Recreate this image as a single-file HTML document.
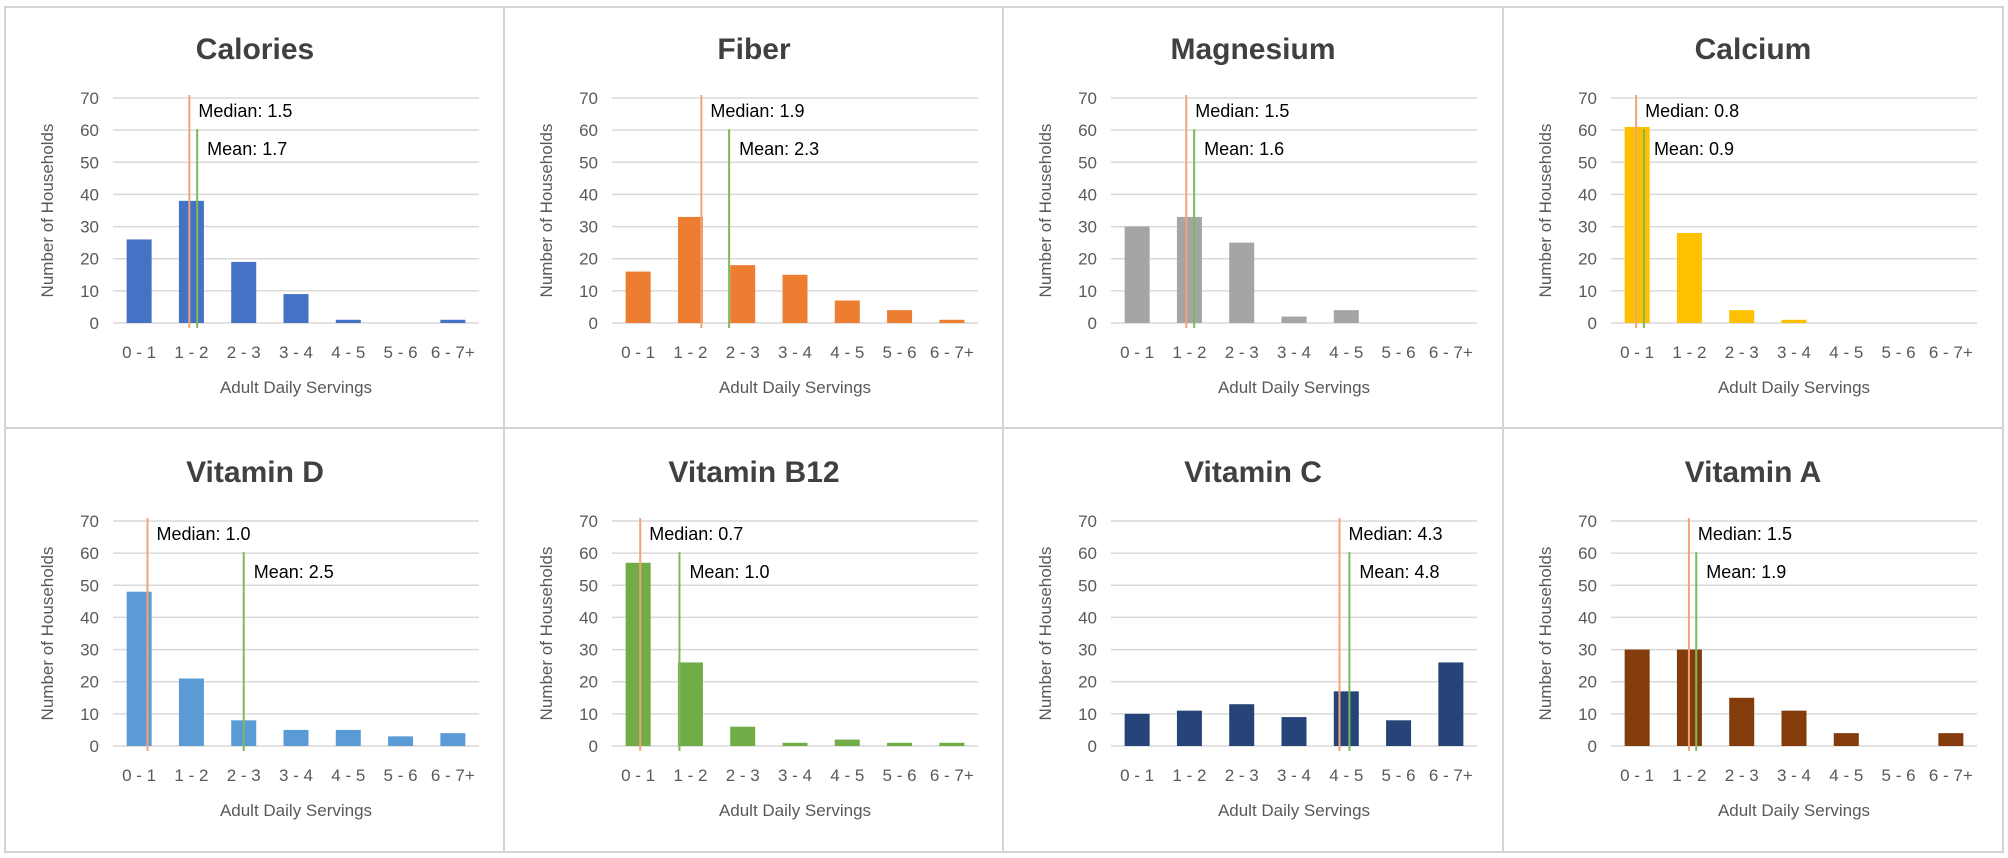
<!DOCTYPE html>
<html><head><meta charset="utf-8">
<style>
html,body{margin:0;padding:0;background:#fff;}
svg{display:block;font-family:"Liberation Sans",sans-serif;}
</style></head>
<body>
<svg id="chart" width="2008" height="858" viewBox="0 0 2008 858" xmlns="http://www.w3.org/2000/svg"></svg>
<script>
const titles = ["Calories","Fiber","Magnesium","Calcium","Vitamin D","Vitamin B12","Vitamin C","Vitamin A"];
const categories = ["0 - 1","1 - 2","2 - 3","3 - 4","4 - 5","5 - 6","6 - 7+"];
const yTicks = [0,10,20,30,40,50,60,70];
const caloriesValues = [26,38,19,9,1,0,1];
const fiberValues = [16,33,18,15,7,4,1];
const magnesiumValues = [30,33,25,2,4,0,0];
const calciumValues = [61,28,4,1,0,0,0];
const vitaminDValues = [48,21,8,5,5,3,4];
const vitaminB12Values = [57,26,6,1,2,1,1];
const vitaminCValues = [10,11,13,9,17,8,26];
const vitaminAValues = [30,30,15,11,4,0,4];
const medianLabels = ["1.5","1.9","1.5","0.8","1.0","0.7","4.3","1.5"];
const meanLabels = ["1.7","2.3","1.6","0.9","2.5","1.0","4.8","1.9"];
const medianPos = [1.46,1.71,1.44,0.48,0.66,0.54,4.37,1.49];
const meanPos = [1.61,2.24,1.59,0.63,2.5,1.29,4.56,1.63];
const colors = ["#4472c4","#ed7d31","#a5a5a5","#ffc000","#5b9bd5","#70ad47","#264478","#843c0c"];
const allValues = [caloriesValues,fiberValues,magnesiumValues,calciumValues,vitaminDValues,vitaminB12Values,vitaminCValues,vitaminAValues];

const svg = document.getElementById('chart');
const NS = "http://www.w3.org/2000/svg";
function mk(tag, attrs, parent){
  const e = document.createElementNS(NS, tag);
  for (const k in attrs) e.setAttribute(k, attrs[k]);
  (parent||svg).appendChild(e);
  return e;
}
const colX = [5,504,1003,1503,2003];
const rowY = [7,428,852];
// outer frame & dividers
const frame = mk('rect',{x:5,y:7,width:1998,height:845,fill:'none',stroke:'#d4d4d4','stroke-width':2});


[504,1003,1503].forEach(x=>{
  const l = mk('line',{x1:x,y1:7,x2:x,y2:852,stroke:'#d4d4d4','stroke-width':2});
  
  
});
const hl = mk('line',{x1:5,y1:428,x2:2003,y2:428,stroke:'#d4d4d4','stroke-width':2});



for (let p=0;p<8;p++){
  const col = p%4, row = Math.floor(p/4);
  const ox = colX[col], oy = rowY[row] + (row===1 ? 2 : 0);
  const g = mk('g',{});
  
  
  const left = ox+108, right = ox+474;
  const y0 = oy+316, yTop = oy+91;
  const yScale = v => y0 - (v/70)*(y0-yTop);
  const band = (right-left)/categories.length;
  const xScale = u => left + u*band;

  const t = mk('text',{x:ox+250,y:oy+52,'text-anchor':'middle','font-size':30,'font-weight':'bold',fill:'#404040'},g);
  t.textContent = titles[p];
  
  

  yTicks.forEach(v=>{
    const gl = mk('line',{x1:left,x2:right,y1:yScale(v),y2:yScale(v),stroke:'#d9d9d9','stroke-width':1.5},g);
    
    
    const tl = mk('text',{x:left-14,y:yScale(v)+6,'text-anchor':'end','font-size':17,fill:'#595959'},g);
    tl.textContent = v;
    
    
  });
  const yt = mk('text',{x:0,y:0,'text-anchor':'middle','font-size':17,fill:'#595959',transform:`translate(${ox+48},${(y0+yTop)/2}) rotate(-90)`},g);
  yt.textContent = 'Number  of Households';
  
  

  const vals = allValues[p];
  categories.forEach((c,i)=>{
    const cx = xScale(i+0.5);
    const v = vals[i];
    if (v>0){
      const b = mk('rect',{x:cx-12.5,y:yScale(v),width:25,height:y0-yScale(v),fill:colors[p]},g);
      
      
    }
    const xl = mk('text',{x:cx,y:oy+351,'text-anchor':'middle','font-size':17,fill:'#595959'},g);
    xl.textContent = c;
    
    
  });
  const xt = mk('text',{x:(left+right)/2,y:oy+386,'text-anchor':'middle','font-size':17,fill:'#595959'},g);
  xt.textContent = 'Adult Daily Servings';
  
  

  const mx = xScale(medianPos[p]);
  const ml = mk('line',{x1:mx,x2:mx,y1:yScale(70)-3,y2:y0+5,stroke:'#f4a27a','stroke-width':2},g);
  
  
  const mt = mk('text',{x:mx+9,y:oy+110,'font-size':18,fill:'#000'},g);
  mt.textContent = 'Median: ' + medianLabels[p];
  
  

  const ex = xScale(meanPos[p]);
  const el = mk('line',{x1:ex,x2:ex,y1:yScale(60)-1,y2:y0+5,stroke:'#7fb85a','stroke-width':2},g);
  
  
  const et = mk('text',{x:ex+10,y:oy+148,'font-size':18,fill:'#000'},g);
  et.textContent = 'Mean: ' + meanLabels[p];
  
  
}
</script>
</body></html>
